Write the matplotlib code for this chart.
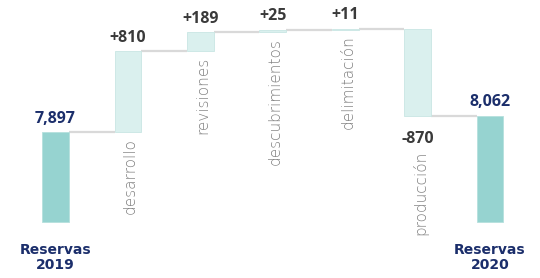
import matplotlib.pyplot as plt

# Waterfall data
categories = ['Reservas\n2019', 'desarrollo', 'revisiones', 'descubrimientos',
              'delimitación', 'producción', 'Reservas\n2020']
start_total = 7897
deltas = [810, 189, 25, 11, -870]
end_total = 8062
delta_labels = ['+810', '+189', '+25', '+11', '-870']
total_labels = ['7,897', '8,062']

base = 7000  # the chart's bars start here (broken axis)

total_color = '#96d3d0'
delta_color = '#daf0ee'
delta_edge = '#c9e6e3'
navy = '#1b2e6b'
dark = '#3a3a3a'
grey = '#808080'
line_grey = '#d9d9d9'

fig = plt.figure(figsize=(5.4, 2.78), dpi=100)
ax = fig.add_axes([0, 0, 1, 1])
ax.set_xlim(-0.767, 6.69)
ax.set_ylim(6440, 9220)
ax.axis('off')

width = 0.37
num_font = 'Open Sans'
cat_font = 'DejaVu Sans'

# bottoms / tops of every bar
levels = [start_total]
for d in deltas:
    levels.append(levels[-1] + d)

bottoms = [base]
tops = [start_total]
for i, d in enumerate(deltas):
    lo, hi = sorted([levels[i], levels[i + 1]])
    bottoms.append(lo)
    tops.append(hi)
bottoms.append(base)
tops.append(end_total)

# connectors
for i in range(len(categories) - 1):
    ax.plot([i + width / 2, i + 1 - width / 2], [levels[i], levels[i]],
            color=line_grey, lw=1.6, solid_capstyle='butt', zorder=1)

for i, cat in enumerate(categories):
    h = tops[i] - bottoms[i]
    if i in (0, len(categories) - 1):
        ax.bar(i, h, bottom=bottoms[i], width=width, color=total_color,
               edgecolor='#b5e0dd', linewidth=0.6, zorder=2)
        lab = total_labels[0] if i == 0 else total_labels[1]
        ax.annotate(lab, (i, tops[i]), xytext=(0, 4), textcoords='offset points',
                    ha='center', va='bottom', fontsize=11.5, fontweight='bold',
                    color=navy, family=num_font)
        ax.annotate(cat, (i, base), xytext=(0, -15), textcoords='offset points',
                    ha='center', va='top', fontsize=10, fontweight='bold',
                    color=navy, family='DejaVu Sans', linespacing=1.15)
    else:
        d = deltas[i - 1]
        ax.bar(i, h, bottom=bottoms[i], width=width, color=delta_color,
               edgecolor=delta_edge, linewidth=0.6, zorder=2)
        if d > 0:
            ax.annotate(delta_labels[i - 1], (i, tops[i]), xytext=(0, 4),
                        textcoords='offset points', ha='center', va='bottom',
                        fontsize=11.5, fontweight='bold', color=dark, family=num_font)
            ax.annotate(cat, (i, bottoms[i]), xytext=(2, -4),
                        textcoords='offset points', ha='center', va='top',
                        rotation=90, fontsize=11, fontweight='light',
                        color=grey, family=cat_font)
        else:
            ax.annotate(delta_labels[i - 1], (i, bottoms[i]), xytext=(0, -11),
                        textcoords='offset points', ha='center', va='top',
                        fontsize=11.5, fontweight='bold', color=dark, family=num_font)
            ax.annotate(cat, (i, bottoms[i]), xytext=(2, -25),
                        textcoords='offset points', ha='center', va='top',
                        rotation=90, fontsize=11, fontweight='light',
                        color=grey, family=cat_font)

fig.savefig('out.png', dpi=100)
